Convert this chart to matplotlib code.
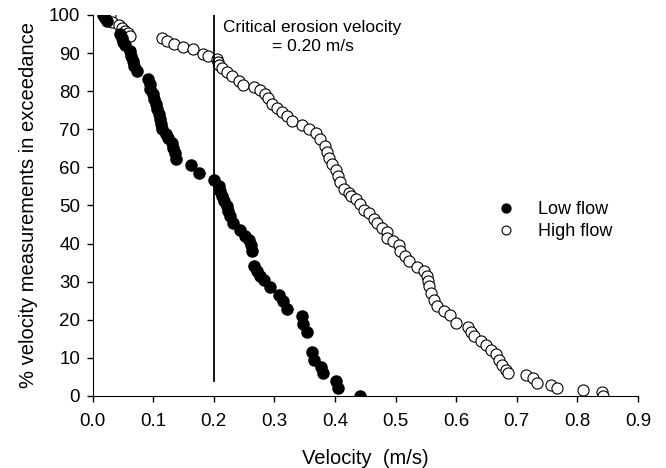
import matplotlib
matplotlib.use("Agg")
import matplotlib.pyplot as plt

plt.rcParams["font.family"] = ["Liberation Sans", "DejaVu Sans"]

# low flow: velocity (m/s) and % exceedance
low_v = [0.018, 0.021, 0.024, 0.045, 0.048, 0.050, 0.053, 0.062, 0.064, 0.067,
         0.069, 0.073, 0.091, 0.094, 0.095, 0.0995, 0.102, 0.104, 0.107, 0.109,
         0.111, 0.113, 0.115, 0.121, 0.125, 0.131, 0.133, 0.136, 0.138, 0.162,
         0.175, 0.200, 0.208, 0.211, 0.213, 0.217, 0.221, 0.224, 0.227, 0.231,
         0.243, 0.252, 0.258, 0.261, 0.263, 0.266, 0.272, 0.277, 0.283, 0.293,
         0.307, 0.315, 0.320, 0.346, 0.348, 0.353, 0.362, 0.366, 0.377, 0.381,
         0.401, 0.405, 0.442]
low_p = [100, 99.2, 98.4, 95.0, 94.0, 93.0, 92.0, 90.5, 89.2, 88.0,
         86.6, 85.3, 83.2, 81.8, 80.5, 79.2, 77.9, 76.6, 75.3, 73.9,
         72.6, 71.3, 70.0, 68.7, 67.6, 66.3, 65.0, 63.7, 62.3, 60.5,
         58.6, 56.8, 55.1, 53.8, 52.4, 51.1, 49.8, 48.5, 47.2, 45.4,
         43.5, 42.1, 41.0, 39.5, 38.0, 34.0, 32.7, 31.6, 30.3, 28.6,
         26.6, 25.0, 22.8, 20.9, 18.9, 16.9, 11.4, 9.5, 7.5, 6.0,
         4.0, 2.0, 0.0]

# high flow
high_v = [0.029, 0.032, 0.043, 0.048, 0.054, 0.059, 0.062, 0.114, 0.123, 0.134,
          0.149, 0.166, 0.183, 0.191, 0.205, 0.207, 0.209, 0.214, 0.222, 0.230,
          0.241, 0.249, 0.266, 0.277, 0.285, 0.290, 0.296, 0.304, 0.313, 0.321,
          0.329, 0.346, 0.357, 0.368, 0.376, 0.383, 0.386, 0.390, 0.395, 0.401,
          0.405, 0.409, 0.415, 0.423, 0.426, 0.434, 0.442, 0.448, 0.456, 0.464,
          0.470, 0.478, 0.485, 0.486, 0.495, 0.505, 0.508, 0.515, 0.522, 0.536,
          0.547, 0.552, 0.554, 0.555, 0.558, 0.563, 0.569, 0.580, 0.590, 0.599,
          0.620, 0.624, 0.629, 0.641, 0.649, 0.657, 0.665, 0.671, 0.676, 0.682,
          0.685, 0.715, 0.726, 0.734, 0.756, 0.767, 0.809, 0.840, 0.843]
high_p = [100, 98.2, 97.4, 96.6, 95.9, 95.2, 94.4, 93.9, 93.2, 92.4,
          91.7, 91.0, 89.7, 89.1, 88.4, 87.6, 86.8, 86.0, 84.9, 84.0,
          82.7, 81.6, 81.0, 80.4, 79.2, 78.1, 76.6, 75.7, 74.6, 73.5,
          72.2, 71.1, 70.0, 69.1, 67.4, 65.6, 64.0, 62.5, 60.8, 59.3,
          57.7, 56.1, 54.4, 53.3, 52.6, 51.6, 50.3, 48.9, 48.1, 46.5,
          45.3, 44.1, 43.0, 41.5, 40.6, 39.5, 38.0, 36.7, 35.3, 33.9,
          32.7, 31.4, 30.1, 28.8, 27.0, 25.3, 23.7, 22.2, 21.3, 19.1,
          18.2, 16.7, 15.6, 14.3, 13.4, 12.1, 11.1, 9.5, 8.2, 6.8,
          6.1, 5.5, 4.6, 3.5, 2.9, 2.0, 1.6, 0.9, 0.0]

critical_v = 0.20
x_ticks = [0.0, 0.1, 0.2, 0.3, 0.4, 0.5, 0.6, 0.7, 0.8, 0.9]
y_ticks = [0, 10, 20, 30, 40, 50, 60, 70, 80, 90, 100]

fig = plt.figure(figsize=(6.66, 4.68), dpi=100)
ax = fig.add_axes([0.139, 0.154, 0.819, 0.814])

ax.plot(low_v, low_p, "o", color="black", markersize=8, label="Low flow", zorder=3)
ax.plot(high_v, high_p, "o", markerfacecolor="white", markeredgecolor="black",
        markeredgewidth=0.8, markersize=8, label="High flow", zorder=2)

ax.plot([critical_v, critical_v], [4, 100], color="black", linewidth=1.3, zorder=2.5)
ax.text(0.363, 94.2, "Critical erosion velocity\n= 0.20 m/s", ha="center", va="center",
        multialignment="center", fontsize=12.5, linespacing=1.35)

ax.set_xlim(0, 0.9)
ax.set_ylim(0, 100)
ax.set_xticks(x_ticks)
ax.set_xticklabels([f"{v:.1f}" for v in x_ticks])
ax.set_yticks(y_ticks)
ax.tick_params(direction="out", length=4, width=1, labelsize=13.5, pad=5)
ax.tick_params(axis="x", pad=8)
for s in ["top", "right"]:
    ax.spines[s].set_visible(False)
ax.spines["left"].set_clip_on(False)
ax.spines["bottom"].set_clip_on(False)

ax.set_xlabel("Velocity  (m/s)", fontsize=14.5, labelpad=14)
ax.set_ylabel("% velocity measurements in exceedance", fontsize=14.5, labelpad=8)

ax.legend(loc="center left", bbox_to_anchor=(0.695, 0.46), frameon=False,
          fontsize=13, handletextpad=0.8, labelspacing=0.3, markerscale=0.8)

fig.savefig("out.png", dpi=100)
